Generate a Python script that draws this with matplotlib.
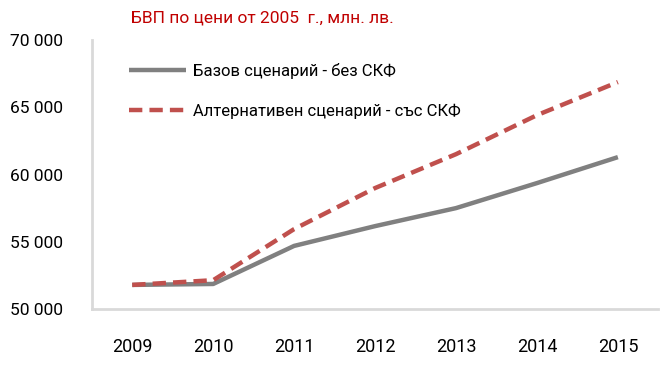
import matplotlib.pyplot as plt
from matplotlib.ticker import FuncFormatter

years = ['2009', '2010', '2011', '2012', '2013', '2014', '2015']
bazov = [51800, 51870, 54700, 56170, 57510, 59370, 61300]
alternativen = [51800, 52150, 55950, 59000, 61520, 64420, 66880]

plt.rcParams['font.family'] = ['Roboto', 'DejaVu Sans']

fig = plt.figure(figsize=(6.65, 3.68), dpi=100)
ax = fig.add_axes([0.138, 0.16, 0.852, 0.731])

x = range(len(years))
ax.plot(x, bazov, color='#808080', lw=3.2, solid_capstyle='butt',
        label='Базов сценарий - без СКФ')
ax.plot(x, alternativen, color='#c0504d', lw=3.2, ls=(0, (3, 1.6)),
        label='Алтернативен сценарий - със СКФ')

ax.set_xlim(-0.5, len(years) - 0.5)
ax.set_ylim(50000, 70000)
ax.set_yticks(range(50000, 70001, 5000))
ax.yaxis.set_major_formatter(FuncFormatter(lambda v, p: '{:,.0f}'.format(v).replace(',', ' ')))
ax.set_xticks(list(x))
ax.set_xticklabels(years)
ax.tick_params(length=0, labelsize=12.5)
ax.tick_params(axis='x', labelsize=13, pad=21)
ax.tick_params(axis='y', pad=21)

for s in ['top', 'right']:
    ax.spines[s].set_visible(False)
for s in ['left', 'bottom']:
    ax.spines[s].set_color('#d9d9d9')
    ax.spines[s].set_linewidth(2)

ax.legend(loc='upper left', bbox_to_anchor=(0.04, 0.97), frameon=False,
          fontsize=12, handlelength=3.4, labelspacing=1.45, handletextpad=0.4)

fig.text(0.394, 0.952, 'БВП по цени от 2005  г., млн. лв.', color='#c00000',
         fontsize=12.5, ha='center', va='center')

fig.savefig('out.png', dpi=100)
